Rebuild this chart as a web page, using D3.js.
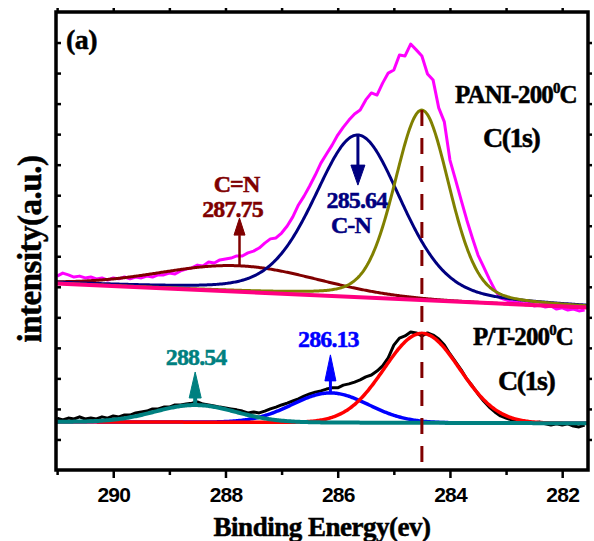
<!DOCTYPE html>
<html>
<head>
<meta charset="utf-8">
<script src="https://cdn.jsdelivr.net/npm/d3@7"></script>
<style>
  html, body { margin: 0; padding: 0; background: #fff; }
  svg { display: block; }
  .serif { font-family: "Liberation Serif", "Times New Roman", serif; font-weight: bold; stroke-width: 0.5px; }
  .sans { font-family: "Liberation Sans", Arial, sans-serif; font-weight: bold; }
</style>
</head>
<body>
<svg id="chart" width="594" height="541"></svg>
<script>
// Binding-energy grid of the recorded C(1s) spectra (eV)
const energy = [
  291.0, 290.9, 290.8, 290.7, 290.6, 290.5, 290.4, 290.3, 290.2, 290.1,
  290.0, 289.9, 289.8, 289.7, 289.6, 289.5, 289.4, 289.3, 289.2, 289.1,
  289.0, 288.9, 288.8, 288.7, 288.6, 288.5, 288.4, 288.3, 288.2, 288.1,
  288.0, 287.9, 287.8, 287.7, 287.6, 287.5, 287.4, 287.3, 287.2, 287.1,
  287.0, 286.9, 286.8, 286.7, 286.6, 286.5, 286.4, 286.3, 286.2, 286.1,
  286.0, 285.9, 285.8, 285.7, 285.6, 285.5, 285.4, 285.3, 285.2, 285.1,
  285.0, 284.9, 284.8, 284.7, 284.6, 284.5, 284.4, 284.3, 284.2, 284.1,
  284.0, 283.9, 283.8, 283.7, 283.6, 283.5, 283.4, 283.3, 283.2, 283.1,
  283.0, 282.9, 282.8, 282.7, 282.6, 282.5, 282.4, 282.3, 282.2, 282.1,
  282.0, 281.9, 281.8, 281.7, 281.6
];

// PANI-200 °C measured envelope (a.u.)
const paniSpectrum = [
  635, 645, 639, 632, 635, 629, 632, 626, 629, 622,
  629, 626, 632, 626, 632, 629, 635, 632, 639, 639,
  645, 642, 652, 658, 662, 671, 668, 681, 678, 688,
  691, 694, 701, 701, 711, 717, 727, 743, 757, 760,
  776, 799, 829, 868, 897, 930, 966, 1005, 1035, 1064,
  1097, 1123, 1146, 1166, 1179, 1212, 1235, 1228, 1267, 1300,
  1310, 1359, 1356, 1395, 1376, 1356, 1297, 1277, 1186, 1140,
  1015, 950, 884, 819, 760, 704, 665, 626, 590, 563,
  557, 550, 553, 544, 547, 537, 540, 534, 537, 527,
  531, 524, 527, 521, 524
];

// P/T-200 °C measured spectrum (a.u.)
const ptSpectrum = [
  170, 164, 170, 167, 174, 167, 170, 167, 174, 170,
  177, 174, 180, 180, 187, 190, 193, 200, 200, 206,
  206, 213, 213, 216, 219, 223, 216, 213, 210, 206,
  203, 200, 197, 193, 187, 190, 187, 193, 200, 206,
  213, 219, 226, 233, 242, 249, 255, 259, 265, 269,
  269, 278, 282, 288, 295, 305, 311, 324, 341, 367,
  409, 432, 439, 452, 449, 439, 449, 442, 429, 409,
  380, 354, 328, 298, 275, 249, 226, 206, 190, 177,
  170, 164, 164, 160, 157, 154, 157, 151, 147, 151,
  147, 151, 144, 141, 147
];

// Linear backgrounds: intensity at the two ends of the energy window
const backgroundEnergy = [291.02, 281.54];
const paniBackground = [611, 532];
const ptBackground = [158, 153];

// Fitted components (pseudo-Voigt): centre, height, half width, Lorentzian share
const paniCenters = [287.75, 285.64, 284.5];
const paniHeights = [85, 531, 622];
const paniHalfWidths = [1.65, 0.92, 0.58];
const paniLorentz = [0, 0.3, 0.25];

const ptCenters = [288.54, 286.13, 284.5];
const ptHeights = [56, 97, 293];
const ptHalfWidths = [0.85, 0.8, 0.79];
const ptLorentz = [0, 0, 0];

// Arrow tips of the peak annotations (a.u.)
const paniArrowTips = [825, 933];
const ptArrowTips = [321, 377];

// Axis ticks
const xMajorTicks = [290, 288, 286, 284, 282];
const xMinorTicks = [291, 289, 287, 285, 283];
const xTopTicks = [291, 290, 289, 288, 287, 286, 285, 284, 283, 282];
const yTicks = [100, 200, 300, 400, 500, 600, 700, 800, 900, 1000, 1100, 1200, 1300, 1400];

// ---- styles ----
const paniColors = ["#800000", "#000080", "#808000"];
const ptColors = ["#008080", "#0000FF", "#FF0000"];

const svg = d3.select("#chart");
const plotLeft = 56, plotRight = 588, plotTop = 12, plotBottom = 470;

const x = d3.scaleLinear().domain([291.02, 281.54]).range([plotLeft, plotRight]);
const y = d3.scaleLinear().domain([0, 1500]).range([plotBottom, plotTop]);

svg.append("defs").append("clipPath").attr("id", "plot-area")
  .append("rect").attr("x", plotLeft).attr("y", plotTop)
  .attr("width", plotRight - plotLeft).attr("height", plotBottom - plotTop);

const bgAt = (vals) => d3.scaleLinear().domain(backgroundEnergy).range(vals);
const paniBg = bgAt(paniBackground);
const ptBg = bgAt(ptBackground);

function profile(E, c, h, w, eta) {
  const t = (E - c) / w;
  return h * (eta / (1 + t * t) + (1 - eta) * Math.exp(-Math.LN2 * t * t));
}

const fine = d3.range(291.02, 281.53, -0.02);
const line = d3.line().x(d => x(d[0])).y(d => y(d[1]));

const plot = svg.append("g").attr("clip-path", "url(#plot-area)");

function componentPath(bg, c, h, w, eta) {
  return fine.map(E => [E, bg(E) + profile(E, c, h, w, eta)]);
}

// ---- PANI-200 °C ----
plot.append("path")
  .datum(energy.map((E, i) => [E, paniSpectrum[i]]))
  .attr("d", line).attr("fill", "none").attr("stroke", "#FF00FF")
  .attr("stroke-width", 3).attr("stroke-linejoin", "round");

paniCenters.forEach((c, i) => {
  plot.append("path")
    .datum(componentPath(paniBg, c, paniHeights[i], paniHalfWidths[i], paniLorentz[i]))
    .attr("d", line).attr("fill", "none").attr("stroke", paniColors[i]).attr("stroke-width", 3);
});

plot.append("path")
  .datum(backgroundEnergy.map((E, i) => [E, paniBackground[i]]))
  .attr("d", line).attr("fill", "none").attr("stroke", "#FF0080").attr("stroke-width", 4);

// ---- P/T-200 °C ----
plot.append("path")
  .datum(energy.map((E, i) => [E, ptSpectrum[i]]))
  .attr("d", line).attr("fill", "none").attr("stroke", "#000")
  .attr("stroke-width", 3).attr("stroke-linejoin", "round");

[1, 2, 0].forEach(i => {
  plot.append("path")
    .datum(componentPath(ptBg, ptCenters[i], ptHeights[i], ptHalfWidths[i], ptLorentz[i]))
    .attr("d", line).attr("fill", "none").attr("stroke", ptColors[i])
    .attr("stroke-width", i === 0 ? 4 : 3.5);
});

// Dashed guide through the main C-C peak
const mainPeak = paniCenters[2];
plot.append("line")
  .attr("x1", x(mainPeak)).attr("x2", x(mainPeak))
  .attr("y1", y(paniBg(mainPeak) + paniHeights[2])).attr("y2", y(0))
  .attr("stroke", "#800000").attr("stroke-width", 3).attr("stroke-dasharray", "16,12");

// Arrows marking the fitted peak positions
function arrow(E, fromI, toI, headLen, headW, shaftW, color) {
  const xa = x(E), y0 = y(fromI), y1 = y(toI);
  const dir = y1 < y0 ? 1 : -1; // 1: pointing up
  const base = y1 + dir * headLen;
  svg.append("line").attr("x1", xa).attr("x2", xa).attr("y1", y0).attr("y2", base)
    .attr("stroke", color).attr("stroke-width", shaftW);
  svg.append("path")
    .attr("d", `M${xa},${y1} L${xa - headW / 2},${base} L${xa + headW / 2},${base} Z`)
    .attr("fill", color).attr("stroke", color).attr("stroke-width", 1).attr("stroke-linejoin", "round");
}
arrow(paniCenters[0], paniBg(paniCenters[0]) + paniHeights[0], paniArrowTips[0], 17, 11, 2.5, paniColors[0]);
arrow(paniCenters[1], paniBg(paniCenters[1]) + paniHeights[1], paniArrowTips[1], 20, 14, 3, paniColors[1]);
arrow(ptCenters[0], ptBg(ptCenters[0]) + ptHeights[0], ptArrowTips[0], 26, 12, 4, ptColors[0]);
arrow(ptCenters[1], ptBg(ptCenters[1]) + ptHeights[1], ptArrowTips[1], 26, 11, 3, ptColors[1]);

// ---- axes and frame ----
const gB = svg.append("g").attr("transform", `translate(0,${plotBottom})`)
  .call(d3.axisBottom(x).tickValues(xMajorTicks).tickSize(8).tickPadding(9).tickFormat(d3.format("d")));
svg.append("g").attr("transform", `translate(0,${plotBottom})`)
  .call(d3.axisBottom(x).tickValues(xMinorTicks).tickSize(5).tickFormat(""));
svg.append("g").attr("transform", `translate(0,${plotTop})`)
  .call(d3.axisTop(x).tickValues(xTopTicks).tickSize(4).tickFormat(""));
svg.append("g").attr("transform", `translate(${plotLeft},0)`)
  .call(d3.axisLeft(y).tickValues(yTicks).tickSize(-5).tickFormat(""));
svg.append("g").attr("transform", `translate(${plotRight},0)`)
  .call(d3.axisRight(y).tickValues(yTicks).tickSize(4).tickFormat(""));

svg.selectAll(".domain").remove();
svg.selectAll(".tick line").attr("stroke", "#000").attr("stroke-width", 2.5);
gB.selectAll(".tick text").attr("class", "sans").attr("font-size", 21).attr("fill", "#000")
  .attr("letter-spacing", "-0.8");

svg.append("rect").attr("x", plotLeft).attr("y", plotTop)
  .attr("width", plotRight - plotLeft).attr("height", plotBottom - plotTop)
  .attr("fill", "none").attr("stroke", "#000").attr("stroke-width", 3.5);

// ---- titles and annotations ----
function serifText(xp, yp, size, spacing, color) {
  return svg.append("text").attr("class", "serif").attr("x", xp).attr("y", yp)
    .attr("font-size", size).attr("letter-spacing", spacing)
    .attr("fill", color).attr("stroke", color);
}

serifText(322, 536, 27, "-0.5", "#000").attr("text-anchor", "middle").text("Binding Energy(ev)");
serifText(0, 0, 33, "-0.5", "#000")
  .attr("transform", `translate(41,${(plotTop + plotBottom) / 2 + 8}) rotate(-90)`)
  .attr("text-anchor", "middle").text("intensity(a.u.)");
serifText(66, 49, 28, "-0.5", "#000").text("(a)");

function sampleTitle(xp, yp, label) {
  const t = serifText(xp, yp, 25, "-0.9", "#000");
  t.append("tspan").text(label);
  t.append("tspan").attr("font-size", 15).attr("dy", -10).text("0");
  t.append("tspan").attr("dy", 10).text("C");
}
sampleTitle(455, 103, "PANI-200");
sampleTitle(473, 345, "P/T-200");
serifText(483, 147, 28, "-1.5", "#000").text("C(1s)");
serifText(498, 390, 28, "-1.5", "#000").text("C(1s)");

function peakLabel(E, dx, yp, txt, color) {
  serifText(x(E) + dx, yp, 24, "-0.9", color).attr("text-anchor", "middle").text(txt);
}
peakLabel(paniCenters[0], -3, 192, "C=N", paniColors[0]);
peakLabel(paniCenters[0], -7, 217, paniCenters[0].toFixed(2), paniColors[0]);
peakLabel(paniCenters[1], -1, 208, paniCenters[1].toFixed(2), paniColors[1]);
peakLabel(paniCenters[1], -7, 233, "C-N", paniColors[1]);
peakLabel(ptCenters[0], 1, 365, ptCenters[0].toFixed(2), ptColors[0]);
peakLabel(ptCenters[1], -2, 347, ptCenters[1].toFixed(2), ptColors[1]);
</script>
</body>
</html>
